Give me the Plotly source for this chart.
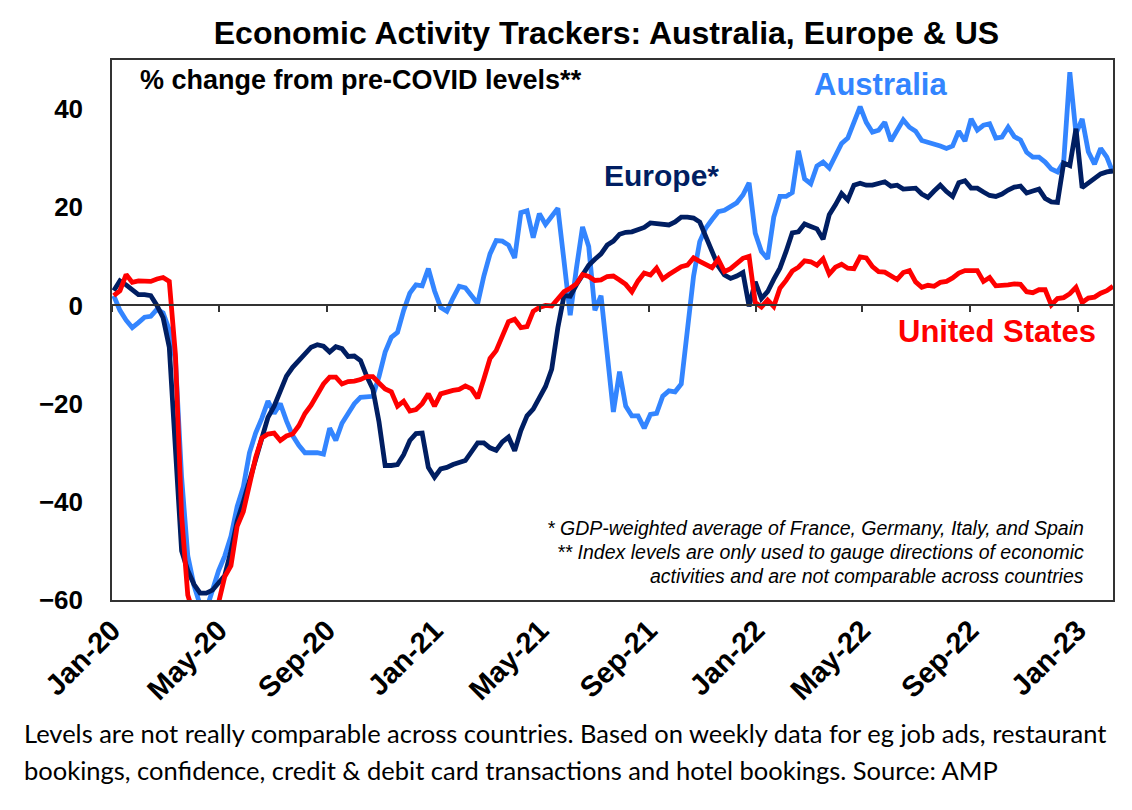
import pandas as pd
import plotly.graph_objects as go

start_date = "2020-01-03"

australia = [
    2, -1, -3, -4.5, -3.5, -2.4, -2.2, -0.8, -1.5, -5,
    -11, -35, -51, -57, -61, -62, -58, -54, -51, -47,
    -41, -37, -30, -26, -23, -19.5, -22, -20, -23.5, -26.5,
    -28.5, -30, -30, -30, -30.3, -25, -27.5, -24, -22, -20,
    -18.7, -18.7, -18.5, -14.5, -9.5, -6.5, -5.5, -1, 2.5, 4.2,
    4, 7.5, 3, -0.4, -1.2, 1.5, 3.9, 3.6, 2, 0.4,
    6, 10.5, 13.2, 13.1, 12.3, 9.7, 18.9, 19.3, 13.8, 18.7,
    16.5, 18, 19.8, 9, -2, 7.5, 16, 12, -1, 2,
    -9.5, -21.7, -13.5, -20.5, -22.5, -22.5, -25, -22.2, -22, -18.5,
    -17.4, -17.6, -16, -5.5, 6, 13, 15.8, 17.5, 19.1, 19.4,
    20.3, 20.9, 22.5, 25, 14.7, 11, 9.5, 18, 22.2, 22.2,
    23, 31.5, 25.8, 24.8, 28.4, 29.2, 28, 30.6, 33, 34.1,
    37.5, 40.5, 37.3, 35.3, 35.7, 37.3, 33.5, 35.8, 37.8, 36.3,
    35.5, 33.6, 33.3, 33, 32.5, 32, 32.5, 35.5, 33.5, 38,
    35.7, 36.7, 37, 34.1, 34.3, 36.3, 34.4, 33.7, 31.2, 30.2,
    30.2, 29.2, 27.8, 27.2, 29.2, 47.5, 35, 38, 31.3, 28.8,
    32, 30.2, 27,
]

europe = [
    3, 5, 4.2, 3.2, 2.2, 2.2, 2, 0, -2.5, -8.5,
    -30, -50, -54, -56.8, -58.6, -58.6, -58, -56.5, -55, -50,
    -44, -40, -35.5, -31, -26.8, -22.8, -20.5, -17.3, -14.4, -12.6,
    -11.2, -10.1, -8.5, -8, -8.3, -9.5, -8.4, -8.8, -10.4, -10.3,
    -11.2, -14.4, -17, -23.7, -32.6, -32.6, -32.4, -30.4, -27.5, -26.1,
    -26, -33, -35, -33.3, -33, -32.4, -32, -31.6, -29.8, -28,
    -28, -29, -29.5, -27.8, -26.8, -29.6, -25.5, -22.5, -21.1, -19,
    -16.5, -13, -4.5, 2, 1.9, 4.2, 6.2, 8.2, 9.4, 10.5,
    12.3, 13.1, 14.5, 14.9, 15, 15.4, 15.9, 16.8, 16.6, 16.4,
    16.4, 17, 18, 18, 17.8, 17, 14, 10.5, 8, 6.2,
    5.5, 6, 6.7, -0.2, 4.8, 1.4, 2.8, 5.3, 7.6, 11,
    14.8, 15, 16.6, 16.1, 15.6, 13.5, 18.5, 20.5, 22.8, 21.5,
    24.5, 24.9, 24.5, 24.5, 24.9, 25.2, 24.3, 24.5, 23.7, 23.7,
    23.9, 22.7, 22, 23.3, 24.5, 23.2, 22.2, 25, 25.4, 23.9,
    23.9, 23.1, 22.4, 22.2, 22.7, 23.5, 24.1, 24.3, 22.9, 23.3,
    23.7, 21.8, 21.1, 21, 29, 28.5, 36, 24, 25, 26,
    26.8, 27.2, 27.4,
]

united_states = [
    2, 3, 6.3, 4.7, 5, 5, 4.9, 5.4, 5.7, 4.9,
    -10, -42.8, -59, -63, -65, -65, -63, -60.5, -55.2, -53,
    -45, -42, -36.5, -31, -27, -26.2, -26, -27.5, -26.6, -26.2,
    -24.5, -22, -20.3, -18, -16, -14.6, -14.6, -16, -15.5, -15.4,
    -15.1, -14.5, -14.5, -15.8, -17, -17.6, -20.5, -19.5, -21.5, -21.2,
    -20, -18, -20.5, -18, -17.6, -17.3, -17.1, -16.4, -17, -18.9,
    -15, -10.8, -9.2, -6, -3.3, -2.8, -4.5, -4.3, -1.2, -0.4,
    0, -0.1, 1.4, 2.8, 3.5, 4.4, 6.3, 5.9, 5.1, 5.2,
    5.9, 6, 5.2, 4.3, 2.8, 5, 6.6, 6.2, 7.6, 5.4,
    6.3, 7, 7.9, 8.2, 9.7, 9, 8.4, 7.7, 9.4, 6.9,
    7.5, 8.5, 9.6, 10, 0.6, -0.3, 1.1, -0.2, 3.5, 5.1,
    7, 7.8, 9.1, 8.9, 8.2, 9.5, 6.4, 7.8, 8.4, 7.6,
    7.5, 9.9, 9.7, 7.9, 6.9, 6.8, 6, 5.3, 6.7, 7.1,
    4.8, 3.7, 4.1, 3.9, 4.7, 4.9, 5.6, 6.6, 7.1, 7.1,
    7.1, 4.9, 5.7, 4, 4, 4.2, 4.4, 4.3, 2.8, 2.6,
    3.2, 3.2, 0.1, 1.4, 1.6, 2.4, 3.7, 0.6, 1.5, 1.7,
    2.5, 3, 3.9,
]

tick_dates = ["2020-01-01", "2020-05-01", "2020-09-01", "2021-01-01", "2021-05-01",
              "2021-09-01", "2022-01-01", "2022-05-01", "2022-09-01", "2023-01-01"]
tick_labels = ["Jan-20", "May-20", "Sep-20", "Jan-21", "May-21",
               "Sep-21", "Jan-22", "May-22", "Sep-22", "Jan-23"]
y_ticks = [-60, -40, -20, 0, 20, 40]

dates = pd.date_range(start_date, periods=len(australia), freq="7D")

C_AUS = "#3385FF"
C_EUR = "#001E62"
C_US = "#FF0000"
FONT = "Arial, 'Liberation Sans', sans-serif"
CAP_FONT = "Lato, 'Open Sans', sans-serif"

fig = go.Figure()
fig.add_trace(go.Scatter(x=dates, y=australia, mode="lines", name="Australia",
                         line=dict(color=C_AUS, width=4.8)))
fig.add_trace(go.Scatter(x=dates, y=europe, mode="lines", name="Europe*",
                         line=dict(color=C_EUR, width=4.8)))
fig.add_trace(go.Scatter(x=dates, y=united_states, mode="lines", name="United States",
                         line=dict(color=C_US, width=4.8), xaxis="x2"))

fig.update_layout(
    width=1132, height=810,
    margin=dict(l=104, r=27, t=52, b=218),
    paper_bgcolor="white", plot_bgcolor="white",
    showlegend=False,
    font=dict(family=FONT, color="black"),
    title=dict(text="Economic Activity Trackers: Australia, Europe & US",
               x=0.494, xref="paper", xanchor="center",
               y=1 - 25 / 810, yref="container", yanchor="middle",
               font=dict(size=32, weight="bold", color="black", family=FONT)),
    xaxis=dict(type="date", range=["2020-01-01", "2023-02-10"],
               tickvals=tick_dates, ticktext=tick_labels, tickangle=-45,
               tickfont=dict(size=29, weight="bold", family=FONT),
               ticks="", showgrid=False, zeroline=False,
               showline=True, linecolor="#333333", linewidth=1.5, mirror=True,
               ticklabelstandoff=0),
    xaxis2=dict(type="date", matches="x", overlaying="x", anchor="free",
                position=60 / 110, tickvals=tick_dates, ticks="outside",
                ticklen=6, tickwidth=1.5, tickcolor="#333333",
                showticklabels=False, showgrid=False, zeroline=False,
                showline=True, linecolor="#333333", linewidth=1.5),
    yaxis=dict(range=[-60, 50], tickvals=y_ticks,
               tickfont=dict(size=26, weight="bold", family=FONT),
               ticks="", showgrid=False, zeroline=False,
               showline=True, linecolor="#333333", linewidth=1.5, mirror=True,
               ticklabelstandoff=22),
)

def ann(text, x, y, size, color="black", xanchor="center", italic=False,
        bold=True, family=FONT, align="center", yanchor="middle"):
    fig.add_annotation(text=text, x=x, y=y, xref="paper", yref="paper",
                       xanchor=xanchor, yanchor=yanchor, showarrow=False, align=align,
                       font=dict(size=size, color=color, family=family,
                                 weight="bold" if bold else "normal",
                                 style="italic" if italic else "normal"))

ann("% change from pre-COVID levels**", 0.026, 0.963, 27, xanchor="left")
ann("Australia", 0.768, 0.954, 31, color=C_AUS)
ann("Europe*", 0.549, 0.787, 30, color=C_EUR)
ann("United States", 0.884, 0.498, 31, color=C_US)
ann("* GDP-weighted average of France, Germany, Italy, and Spain",
    0.973, 0.133, 19.5, xanchor="right", italic=True, bold=False)
ann("** Index levels are only used to gauge directions of economic",
    0.973, 0.089, 19.5, xanchor="right", italic=True, bold=False)
ann("activities and are not comparable across countries",
    0.973, 0.045, 19.5, xanchor="right", italic=True, bold=False)
ann("Levels are not really comparable across countries. Based on weekly data for eg job ads, restaurant",
    -0.0899, -0.246, 25.5, xanchor="left", bold=False, family=CAP_FONT)
ann("bookings, confidence, credit & debit card transactions and hotel bookings. Source: AMP",
    -0.0899, -0.315, 25.5, xanchor="left", bold=False, family=CAP_FONT)

fig.write_html("out.html")
